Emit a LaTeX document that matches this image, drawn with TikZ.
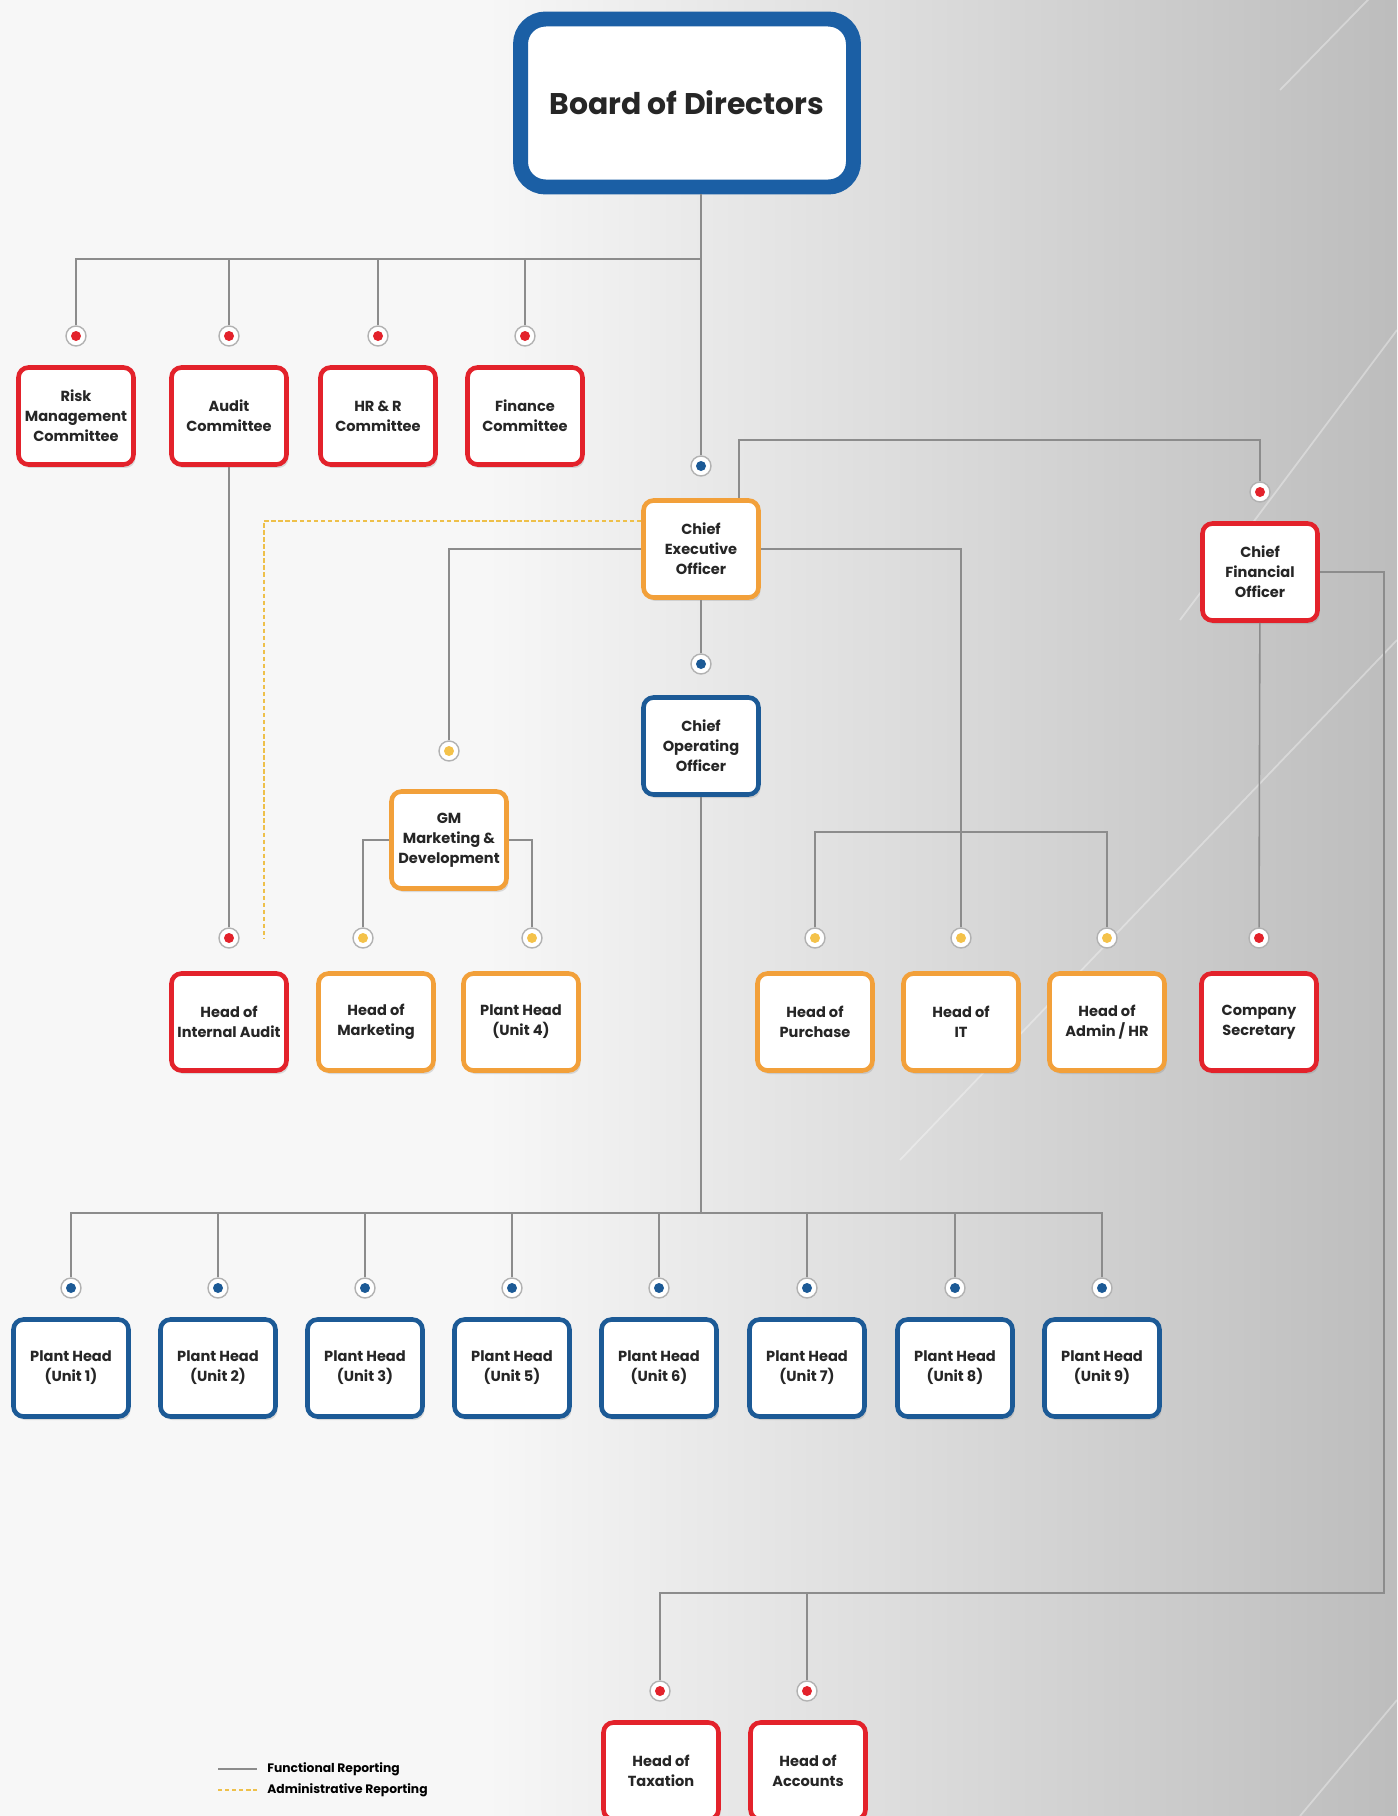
\documentclass[tikz,border=0pt]{standalone}
\usepackage{fontspec}
\setmainfont{Poppins}
\usetikzlibrary{shadows}
\definecolor{boardblue}{HTML}{1B5FA5}
\definecolor{opsblue}{HTML}{1C5A96}
\definecolor{finred}{HTML}{E3222B}
\definecolor{mgmtorange}{HTML}{F2A03A}
\definecolor{dotyellow}{HTML}{F4C24A}
\definecolor{linegray}{HTML}{8C8C8C}
\definecolor{adminyellow}{HTML}{EEC04A}

\begin{document}
\begin{tikzpicture}[x = 0.02cm, y = -0.02cm,
	orgbox/.style = {draw = #1, line width = 2.6pt, fill = white, rounded corners = 0.2cm,
		minimum width = 2.3cm, minimum height = 1.94cm, align = center, inner sep = 1pt,
		font = \fontsize{8.3}{11.5}\selectfont\bfseries, text = black!85,
		drop shadow = {opacity = 0.25, shadow xshift = 0.04cm, shadow yshift = -0.07cm}},
	orgdot/.style = {circle, draw = black!30, line width = 0.8pt, fill = white, minimum size = 0.4cm, inner sep = 0pt,
		path picture = {\fill [#1] (path picture bounding box.center) circle (0.1cm);}},
	link/.style = {draw = linegray, line width = 0.9pt},
	adminlink/.style = {draw = adminyellow, line width = 1pt, dash pattern = on 2.5pt off 1.5pt}]
		%%%%%%%%%%%%% background
		\useasboundingbox (0, 0) rectangle (1397, 1816);
		\fill [black!3] (0, 0) rectangle (1397, 1816);
		\shade [left color = black!3, right color = black!26] (480, 0) rectangle (1397, 1816);
		\draw [white, opacity = 0.35, line width = 1pt] (1180, 620) to (1397, 330);
		\draw [white, opacity = 0.35, line width = 1pt] (1280, 90) to (1397, -30);
		\draw [white, opacity = 0.35, line width = 1pt] (900, 1160) to (1397, 640);
		\draw [white, opacity = 0.35, line width = 1pt] (1300, 1816) to (1397, 1700);
		%%%%%%%%%%%%% board and committees
		\node [orgbox = boardblue, line width = 8.5pt, rounded corners = 0.5cm, minimum width = 6.66cm, minimum height = 3.36cm,
			font = \fontsize{17}{20}\selectfont\bfseries] (bod) at (687, 103) {Board of Directors};
		\coordinate (combus) at (701, 259);
		\node [orgdot = finred] (riskdot) at (76, 336) {};
		\node [orgdot = finred] (auditdot) at (229, 336) {};
		\node [orgdot = finred] (hrrdot) at (378, 336) {};
		\node [orgdot = finred] (findot) at (525, 336) {};
		\node [orgbox = finred] (risk) at (76, 416) {Risk\\Management\\Committee};
		\node [orgbox = finred] (audit) at (229, 416) {Audit\\Committee};
		\node [orgbox = finred] (hrr) at (378, 416) {HR \& R\\Committee};
		\node [orgbox = finred] (fin) at (525, 416) {Finance\\Committee};
		%%%%%%%%%%%%% chief officers
		\node [orgdot = opsblue] (ceodot) at (701, 466) {};
		\node [orgbox = mgmtorange] (ceo) at (701, 549) {Chief\\Executive\\Officer};
		\coordinate (cfotop) at (1260, 440);
		\node [orgdot = finred] (cfodot) at (1260, 492) {};
		\node [orgbox = finred] (cfo) at (1260, 572) {Chief\\Financial\\Officer};
		\node [orgdot = opsblue] (coodot) at (701, 664) {};
		\node [orgbox = opsblue] (coo) at (701, 746) {Chief\\Operating\\Officer};
		\node [orgdot = dotyellow] (gmdot) at (449, 751) {};
		\node [orgbox = mgmtorange] (gm) at (449, 840) {GM\\Marketing \&\\Development};
		%%%%%%%%%%%%% heads
		\coordinate (adminend) at (264, 938);
		\coordinate (opsbar) at (961, 832);
		\node [orgdot = finred] (iadot) at (229, 938) {};
		\node [orgdot = dotyellow] (mktdot) at (363, 938) {};
		\node [orgdot = dotyellow] (unit4dot) at (532, 938) {};
		\node [orgdot = dotyellow] (purdot) at (815, 938) {};
		\node [orgdot = dotyellow] (itdot) at (961, 938) {};
		\node [orgdot = dotyellow] (admdot) at (1107, 938) {};
		\node [orgdot = finred] (csdot) at (1259, 938) {};
		\node [orgbox = finred] (ia) at (229, 1022) {Head of\\Internal Audit};
		\node [orgbox = mgmtorange] (mkt) at (376, 1022) {Head of\\Marketing};
		\node [orgbox = mgmtorange] (unit4) at (521, 1022) {Plant Head\\(Unit 4)};
		\node [orgbox = mgmtorange] (pur) at (815, 1022) {Head of\\Purchase};
		\node [orgbox = mgmtorange] (it) at (961, 1022) {Head of\\IT};
		\node [orgbox = mgmtorange] (adm) at (1107, 1022) {Head of\\Admin / HR};
		\node [orgbox = finred] (cs) at (1259, 1022) {Company\\Secretary};
		%%%%%%%%%%%%% plant heads
		\coordinate (plantbus) at (701, 1213);
		\node [orgdot = opsblue] (unit1dot) at (71, 1288) {};
		\node [orgdot = opsblue] (unit2dot) at (218, 1288) {};
		\node [orgdot = opsblue] (unit3dot) at (365, 1288) {};
		\node [orgdot = opsblue] (unit5dot) at (512, 1288) {};
		\node [orgdot = opsblue] (unit6dot) at (659, 1288) {};
		\node [orgdot = opsblue] (unit7dot) at (807, 1288) {};
		\node [orgdot = opsblue] (unit8dot) at (955, 1288) {};
		\node [orgdot = opsblue] (unit9dot) at (1102, 1288) {};
		\node [orgbox = opsblue] (unit1) at (71, 1368) {Plant Head\\(Unit 1)};
		\node [orgbox = opsblue] (unit2) at (218, 1368) {Plant Head\\(Unit 2)};
		\node [orgbox = opsblue] (unit3) at (365, 1368) {Plant Head\\(Unit 3)};
		\node [orgbox = opsblue] (unit5) at (512, 1368) {Plant Head\\(Unit 5)};
		\node [orgbox = opsblue] (unit6) at (659, 1368) {Plant Head\\(Unit 6)};
		\node [orgbox = opsblue] (unit7) at (807, 1368) {Plant Head\\(Unit 7)};
		\node [orgbox = opsblue] (unit8) at (955, 1368) {Plant Head\\(Unit 8)};
		\node [orgbox = opsblue] (unit9) at (1102, 1368) {Plant Head\\(Unit 9)};
		%%%%%%%%%%%%% finance heads
		\coordinate (finbus) at (1384, 1593);
		\node [orgdot = finred] (taxdot) at (660, 1691) {};
		\node [orgdot = finred] (accdot) at (807, 1691) {};
		\node [orgbox = finred] (tax) at (661, 1771) {Head of\\Taxation};
		\node [orgbox = finred] (acc) at (808, 1771) {Head of\\Accounts};
		%%%%%%%%%%%%% legend
		\coordinate (funkey) at (218, 1769); \coordinate (admkey) at (218, 1790);
		\node [anchor = west, inner sep = 0.2cm, font = \fontsize{7}{8}\selectfont\bfseries] (funtext) at (257, 1769) {Functional Reporting};
		\node [anchor = west, inner sep = 0.2cm, font = \fontsize{7}{8}\selectfont\bfseries] (admtext) at (257, 1790) {Administrative Reporting};
		%%%%%%%%%%%%%
		\draw [link] (bod.south -| ceodot) to (ceodot);
		\draw [link] (combus) -| (riskdot); \draw [link] (combus) -| (auditdot);
		\draw [link] (combus) -| (hrrdot); \draw [link] (combus) -| (findot);
		\draw [link] ([xshift = 0.76cm] ceo.north) |- (cfotop) to (cfodot);
		\draw [adminlink] ([yshift = 0.56cm] ceo.west) -| (adminend);
		\draw [link] (ceo.west) -| (gmdot); \draw [link] (ceo.east) -| (itdot);
		\draw [link] (ceo) to (coodot);
		\draw [link] (purdot) |- (opsbar) -| (admdot);
		\draw [link] (gm.west) -| (mktdot); \draw [link] (gm.east) -| (unit4dot);
		\draw [link] (audit) to (iadot);
		\draw [link] (cfo) to (csdot);
		\draw [link] (coo) to (plantbus);
		\draw [link] (plantbus) -| (unit1dot); \draw [link] (plantbus) -| (unit2dot);
		\draw [link] (plantbus) -| (unit3dot); \draw [link] (plantbus) -| (unit5dot);
		\draw [link] (plantbus) -| (unit6dot); \draw [link] (plantbus) -| (unit7dot);
		\draw [link] (plantbus) -| (unit8dot); \draw [link] (plantbus) -| (unit9dot);
		\draw [link] (cfo.east) -| (finbus) -| (taxdot);
		\draw [link] (accdot |- finbus) to (accdot);
		\draw [link] (funkey) to (funtext.west); \draw [adminlink] (admkey) to (admtext.west);
\end{tikzpicture}
\end{document}
